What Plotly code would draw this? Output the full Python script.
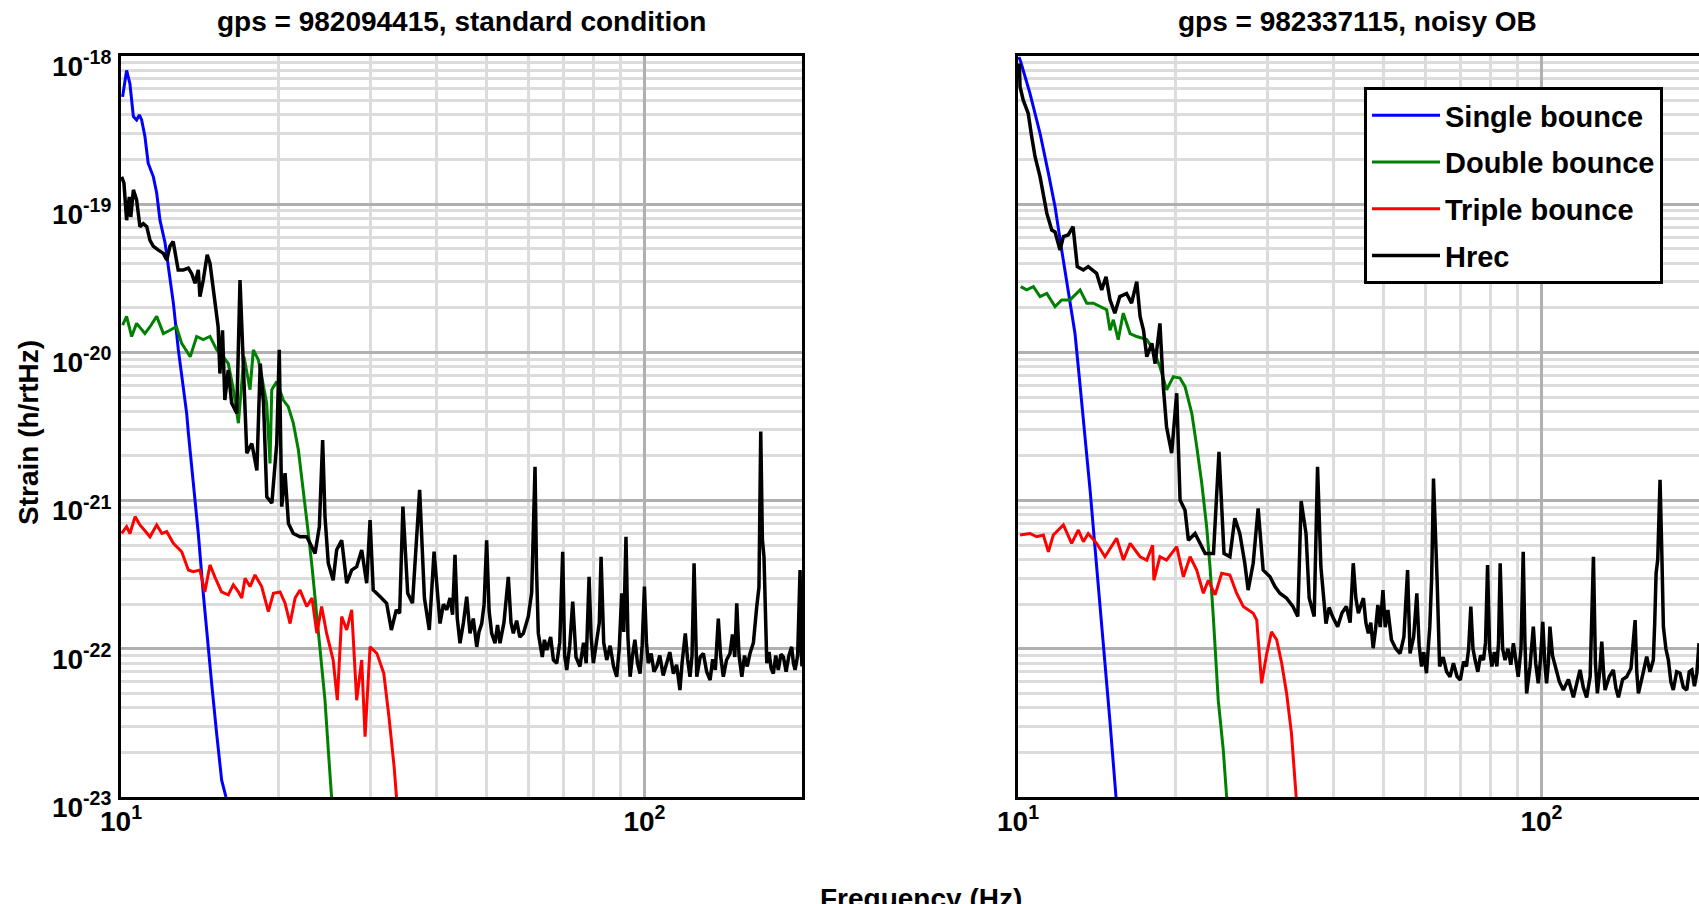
import plotly.graph_objects as go

# ---------------- data, (frequency Hz, strain 1/rtHz) ----------------
# Left panel: gps = 982094415, standard condition
left_single = [(10.07, 5.3e-19), (10.25, 8.0e-19), (10.40, 6.5e-19), (10.56, 3.9e-19), (10.71, 3.7e-19),
               (10.84, 4.0e-19), (10.95, 3.7e-19), (11.11, 2.86e-19), (11.27, 1.89e-19), (11.53, 1.53e-19),
               (11.70, 1.19e-19), (11.87, 7.8e-20), (12.14, 5.47e-20), (12.31, 3.79e-20), (12.59, 2.15e-20),
               (12.87, 1.04e-20), (13.06, 6.86e-21), (13.35, 3.88e-21), (13.45, 2.85e-21), (13.74, 1.31e-21),
               (14.05, 6.0e-22), (14.36, 2.37e-22), (14.58, 1.27e-22), (14.90, 5.85e-23), (15.23, 2.69e-23),
               (15.57, 1.30e-23), (15.87, 1.0e-23)]

left_double = [(10.07, 1.53e-20), (10.25, 1.75e-20), (10.48, 1.28e-20), (10.71, 1.57e-20), (11.11, 1.34e-20),
               (11.36, 1.49e-20), (11.70, 1.75e-20), (12.05, 1.34e-20), (12.40, 1.41e-20), (12.76, 1.49e-20),
               (13.06, 1.15e-20), (13.56, 9.35e-21), (13.95, 1.28e-20), (14.36, 1.22e-20), (14.79, 1.28e-20),
               (15.24, 1.04e-20), (15.68, 9.35e-21), (16.03, 8.4e-21), (16.40, 5.6e-21), (16.76, 3.33e-21),
               (17.18, 9.35e-21), (17.64, 5.6e-21), (17.90, 1.04e-20), (18.30, 8.9e-21), (18.57, 6.86e-21),
               (18.98, 4.55e-21), (19.26, 1.78e-21), (19.41, 5.6e-21), (19.84, 6.35e-21), (20.42, 4.77e-21),
               (20.87, 4.3e-21), (21.34, 3.33e-21), (21.82, 2.2e-21), (22.15, 1.45e-21), (22.47, 9.6e-22),
               (22.80, 6.0e-22), (23.17, 3.58e-22), (23.48, 2.2e-22), (23.82, 1.27e-22), (24.17, 7.6e-23),
               (24.53, 4.5e-23), (24.89, 2.08e-23), (25.25, 1.0e-23)]

left_triple = [(10.03, 6.0e-22), (10.25, 6.67e-22), (10.40, 6.0e-22), (10.64, 7.8e-22), (10.87, 6.85e-22),
               (11.36, 5.7e-22), (11.70, 6.85e-22), (11.97, 6.0e-22), (12.23, 6.17e-22), (12.59, 5.15e-22),
               (13.06, 4.52e-22), (13.45, 3.4e-22), (13.74, 3.31e-22), (14.15, 3.4e-22), (14.46, 2.42e-22),
               (14.79, 3.68e-22), (15.11, 3.06e-22), (15.56, 2.42e-22), (16.03, 2.31e-22), (16.39, 2.7e-22),
               (16.76, 2.42e-22), (17.01, 2.2e-22), (17.26, 2.99e-22), (17.64, 2.63e-22), (18.03, 3.15e-22),
               (18.57, 2.63e-22), (19.12, 1.78e-22), (19.55, 2.37e-22), (20.13, 2.42e-22), (20.58, 2.03e-22),
               (21.04, 1.48e-22), (21.51, 2.2e-22), (21.98, 2.49e-22), (22.64, 1.93e-22), (23.17, 2.2e-22),
               (23.67, 1.27e-22), (24.17, 1.93e-22), (24.71, 1.27e-22), (25.43, 8.4e-23), (25.90, 4.5e-23),
               (26.40, 1.65e-22), (26.99, 1.34e-22), (27.59, 1.83e-22), (28.20, 4.5e-23), (28.83, 8.4e-23),
               (29.26, 2.55e-23), (29.91, 1.03e-22), (30.83, 9.3e-23), (31.77, 6.84e-23), (32.50, 3.48e-23),
               (33.25, 1.6e-23), (33.60, 1.0e-23)]

left_hrec = [(10.03, 1.53e-19), (10.13, 1.39e-19), (10.25, 7.8e-20), (10.37, 1.12e-19), (10.44, 8.2e-20),
             (10.56, 1.25e-19), (10.71, 1.07e-19), (10.87, 7.05e-20), (11.03, 7.4e-20), (11.20, 7.05e-20),
             (11.36, 5.7e-20), (11.53, 5.2e-20), (11.79, 4.9e-20), (12.05, 4.66e-20), (12.23, 4.2e-20),
             (12.40, 5.2e-20), (12.58, 5.6e-20), (12.68, 4.66e-20), (12.86, 3.6e-20), (13.15, 3.6e-20),
             (13.45, 3.7e-20), (13.65, 3.4e-20), (13.85, 2.93e-20), (14.05, 3.6e-20), (14.15, 2.38e-20),
             (14.36, 3.08e-20), (14.61, 4.55e-20), (14.79, 4.0e-20), (15.11, 2.15e-20), (15.33, 1.49e-20),
             (15.45, 7.2e-21), (15.63, 1.41e-20), (15.79, 4.77e-21), (16.03, 7.6e-21), (16.27, 4.55e-21),
             (16.64, 3.88e-21), (16.88, 3.08e-20), (17.13, 8.9e-21), (17.39, 2.09e-21), (17.78, 2.43e-21),
             (18.18, 1.6e-21), (18.45, 8.4e-21), (18.72, 4.55e-21), (18.99, 1.06e-21), (19.42, 9.6e-22),
             (19.84, 2.43e-21), (20.06, 1.04e-20), (20.28, 9.1e-22), (20.58, 1.53e-21), (20.89, 7.0e-22),
             (21.34, 6.0e-22), (21.98, 5.7e-22), (22.64, 5.7e-22), (22.97, 5.15e-22), (23.48, 4.4e-22),
             (23.93, 6.67e-22), (24.28, 2.56e-21), (24.53, 7.8e-22), (24.89, 3.78e-22), (25.43, 2.9e-22),
             (25.82, 4.64e-22), (26.40, 5.4e-22), (26.99, 2.77e-22), (27.59, 3.4e-22), (28.20, 3.58e-22),
             (28.83, 4.64e-22), (29.47, 2.77e-22), (29.91, 7.4e-22), (30.33, 2.49e-22), (31.25, 2.25e-22),
             (32.17, 2.03e-22), (32.85, 1.34e-22), (33.57, 1.83e-22), (34.07, 1.74e-22), (34.56, 9.1e-22),
             (35.30, 2.37e-22), (36.05, 2.03e-22), (37.20, 1.18e-21), (37.99, 2.2e-22), (38.81, 1.34e-22),
             (39.64, 4.52e-22), (40.69, 1.48e-22), (41.30, 2.0e-22), (41.91, 1.83e-22), (42.52, 2.2e-22),
             (43.00, 1.7e-22), (43.46, 4.3e-22), (43.90, 1.6e-22), (44.43, 1.09e-22), (45.10, 1.5e-22),
             (45.76, 2.25e-22), (46.43, 1.27e-22), (47.10, 1.6e-22), (47.82, 1.03e-22), (48.30, 1.3e-22),
             (48.88, 1.48e-22), (49.40, 2.0e-22), (49.95, 5.4e-22), (50.50, 1.8e-22), (51.07, 1.27e-22),
             (51.82, 1.09e-22), (52.40, 1.45e-22), (52.97, 1.09e-22), (53.90, 1.5e-22), (54.95, 3.06e-22),
             (55.60, 1.5e-22), (56.18, 1.27e-22), (57.00, 1.55e-22), (57.80, 1.2e-22), (58.71, 1.27e-22),
             (59.40, 1.45e-22), (60.00, 1.65e-22), (60.90, 2.4e-22), (61.80, 1.69e-21), (62.20, 3.5e-22),
             (62.70, 1.27e-22), (63.80, 8.8e-23), (64.40, 1.15e-22), (65.10, 9.8e-23), (66.20, 1.2e-22),
             (67.00, 8.4e-23), (68.00, 8.0e-23), (68.90, 1.1e-22), (69.80, 4.52e-22), (70.40, 9.0e-23),
             (71.06, 7.2e-23), (72.00, 1.05e-22), (72.95, 2.08e-22), (74.00, 8.8e-23), (75.30, 7.6e-23),
             (76.50, 1.1e-22), (77.40, 8.0e-23), (78.38, 3.06e-22), (79.10, 1.2e-22), (79.88, 8.0e-23),
             (81.00, 1.1e-22), (82.00, 1.5e-22), (82.63, 4.18e-22), (83.60, 1.1e-22), (84.72, 8.4e-23),
             (86.00, 1.05e-22), (87.30, 7.6e-23), (88.52, 6.48e-23), (89.50, 1.0e-22), (90.50, 2.37e-22),
             (91.30, 1.3e-22), (92.20, 5.7e-22), (93.00, 1.2e-22), (93.90, 6.48e-23), (94.90, 9.0e-23),
             (95.90, 1.15e-22), (97.00, 8.0e-23), (98.10, 6.8e-23), (99.00, 1.05e-22), (100.0, 2.63e-22),
             (100.9, 1.1e-22), (101.7, 8.0e-23), (103.0, 9.3e-23), (104.3, 7.0e-23), (105.6, 7.6e-23),
             (107.0, 9.0e-23), (108.6, 6.6e-23), (110.3, 8.0e-23), (111.8, 9.5e-23), (113.6, 6.8e-23),
             (115.2, 7.8e-23), (116.9, 5.27e-23), (118.0, 8.0e-23), (119.7, 1.27e-22), (120.9, 8.5e-23),
             (122.2, 6.48e-23), (123.3, 9.0e-23), (124.4, 3.78e-22), (125.2, 1.0e-22), (125.9, 6.48e-23),
             (127.8, 8.8e-23), (129.6, 9.3e-23), (131.5, 7.0e-23), (133.5, 6.16e-23), (135.0, 8.5e-23),
             (136.6, 7.2e-23), (138.4, 1.6e-22), (139.8, 9.0e-23), (141.5, 6.48e-23), (143.5, 8.4e-23),
             (145.7, 9.3e-23), (147.3, 1.25e-22), (148.8, 8.8e-23), (150.1, 2.03e-22), (151.6, 9.0e-23),
             (153.5, 6.48e-23), (155.3, 9.0e-23), (157.2, 7.6e-23), (159.1, 9.3e-23), (161.5, 1.1e-22),
             (163.9, 1.93e-22), (165.5, 2.6e-22), (166.8, 2.92e-21), (168.0, 5.5e-22), (169.2, 4.18e-22),
             (170.2, 1.5e-22), (171.3, 8.0e-23), (173.0, 9.5e-23), (174.6, 7.4e-23), (176.3, 6.8e-23),
             (178.2, 9.0e-23), (180.2, 7.2e-23), (182.3, 9.2e-23), (184.3, 8.8e-23), (186.5, 7.0e-23),
             (188.8, 9.0e-23), (191.1, 1.03e-22), (192.6, 8.0e-23), (194.0, 7.2e-23), (196.2, 9.0e-23),
             (198.3, 3.4e-22), (199.2, 1.0e-22), (200.0, 7.6e-23)]

# Right panel: gps = 982337115, noisy OB
right_single = [(10.04, 9.85e-19), (10.12, 9.15e-19), (10.54, 5.6e-19), (11.02, 3.0e-19), (11.43, 1.62e-19),
                (11.77, 9.6e-20), (12.12, 4.9e-20), (12.48, 2.64e-20), (12.85, 1.34e-20), (13.14, 6.0e-21),
                (13.43, 2.73e-21), (13.73, 1.18e-21), (14.03, 4.86e-22), (14.35, 1.98e-22), (14.66, 7.77e-23),
                (14.99, 3.2e-23), (15.39, 1.0e-23)]

right_double = [(10.12, 2.78e-20), (10.39, 2.64e-20), (10.70, 2.78e-20), (11.02, 2.38e-20), (11.35, 2.5e-20),
                (11.77, 2.04e-20), (12.12, 2.26e-20), (12.57, 2.26e-20), (13.14, 2.64e-20), (13.53, 2.15e-20),
                (13.93, 2.15e-20), (14.35, 2.04e-20), (14.77, 1.94e-20), (14.99, 1.41e-20), (15.21, 1.66e-20),
                (15.54, 1.22e-20), (15.89, 1.84e-20), (16.37, 1.34e-20), (16.86, 1.28e-20), (17.62, 1.22e-20),
                (18.14, 1.04e-20), (18.67, 8.0e-21), (19.23, 5.6e-21), (19.81, 6.86e-21), (20.39, 6.72e-21),
                (20.85, 5.87e-21), (21.48, 3.88e-21), (21.95, 2.32e-21), (22.44, 1.31e-21), (22.93, 6.67e-22),
                (23.27, 3.58e-22), (23.61, 1.65e-22), (24.13, 4.5e-23), (24.67, 2.08e-23), (25.04, 1.0e-23)]

right_triple = [(10.09, 5.86e-22), (10.54, 6.0e-22), (10.86, 5.7e-22), (11.18, 5.86e-22), (11.43, 4.52e-22),
                (11.68, 5.86e-22), (12.21, 6.85e-22), (12.66, 5.15e-22), (13.04, 6.33e-22), (13.33, 5.28e-22),
                (13.62, 6.0e-22), (14.13, 5.15e-22), (14.66, 4.18e-22), (15.43, 5.57e-22), (15.90, 3.97e-22),
                (16.38, 5.15e-22), (17.11, 4.18e-22), (17.62, 3.97e-22), (18.08, 5.0e-22), (18.18, 2.9e-22),
                (18.67, 4.18e-22), (19.22, 3.97e-22), (20.10, 4.89e-22), (20.70, 3.06e-22), (21.32, 4.18e-22),
                (21.95, 3.4e-22), (22.60, 2.37e-22), (23.10, 2.9e-22), (23.80, 2.31e-22), (24.50, 3.23e-22),
                (25.40, 3.15e-22), (26.16, 2.37e-22), (26.94, 1.93e-22), (28.14, 1.74e-22), (28.58, 1.56e-22),
                (29.20, 5.85e-23), (29.87, 9.3e-23), (30.50, 1.3e-22), (31.20, 1.15e-22), (31.90, 8.0e-23),
                (32.60, 5.0e-23), (33.30, 2.69e-23), (34.00, 1.0e-23)]

right_hrec = [(10.06, 8.9e-19), (10.09, 6.2e-19), (10.23, 5.05e-19), (10.46, 4.1e-19), (10.62, 2.86e-19),
              (10.78, 2.09e-19), (11.02, 1.53e-19), (11.18, 1.12e-19), (11.35, 8.7e-20), (11.60, 6.7e-20),
              (11.77, 6.5e-20), (12.03, 4.9e-20), (12.21, 6.04e-20), (12.47, 6.2e-20), (12.74, 7.05e-20),
              (12.98, 3.79e-20), (13.33, 3.6e-20), (13.62, 3.79e-20), (14.13, 3.42e-20), (14.45, 2.64e-20),
              (14.73, 3.24e-20), (14.99, 2.26e-20), (15.31, 1.84e-20), (15.65, 2.38e-20), (16.12, 2.5e-20),
              (16.48, 2.15e-20), (16.86, 3.0e-20), (17.11, 1.75e-20), (17.37, 1.41e-20), (17.62, 9.35e-21),
              (18.02, 1.15e-20), (18.28, 8.4e-21), (18.67, 1.57e-20), (18.95, 5.87e-21), (19.22, 3.15e-21),
              (19.66, 2.09e-21), (20.10, 5.3e-21), (20.40, 1.01e-21), (20.85, 8.6e-22), (21.16, 5.4e-22),
              (21.79, 6.0e-22), (22.27, 5.15e-22), (22.78, 4.4e-22), (23.63, 4.4e-22), (24.21, 2.13e-21),
              (24.75, 4.4e-22), (25.40, 4.18e-22), (25.96, 7.6e-22), (26.53, 6.0e-22), (27.12, 3.78e-22),
              (27.52, 2.49e-22), (28.14, 3.78e-22), (28.76, 8.87e-22), (29.40, 3.4e-22), (30.30, 3.06e-22),
              (30.97, 2.63e-22), (31.64, 2.37e-22), (32.57, 2.2e-22), (33.51, 1.93e-22), (34.24, 1.65e-22),
              (34.75, 9.94e-22), (35.50, 6.0e-22), (36.00, 2.2e-22), (36.80, 1.65e-22), (37.35, 1.69e-21),
              (37.90, 3.58e-22), (38.76, 1.48e-22), (39.30, 1.9e-22), (39.90, 1.65e-22), (40.80, 1.41e-22),
              (41.60, 1.75e-22), (42.40, 1.93e-22), (43.10, 1.5e-22), (43.70, 3.78e-22), (44.20, 2.2e-22),
              (44.70, 1.74e-22), (45.70, 2.2e-22), (46.20, 1.5e-22), (46.70, 1.27e-22), (47.20, 1.5e-22),
              (47.70, 1.01e-22), (48.20, 1.35e-22), (48.70, 1.98e-22), (49.20, 1.4e-22), (49.80, 2.49e-22),
              (50.30, 1.4e-22), (50.90, 1.83e-22), (51.70, 1.15e-22), (52.70, 1.0e-22), (53.70, 9.3e-23),
              (54.60, 1.2e-22), (55.50, 3.4e-22), (56.10, 9.3e-23), (57.00, 1.2e-22), (57.80, 2.37e-22),
              (58.40, 1.05e-22), (59.00, 7.6e-23), (59.60, 9.5e-23), (60.30, 6.84e-23), (61.20, 1.41e-22),
              (61.70, 3.0e-22), (62.20, 1.41e-21), (62.70, 5.0e-22), (63.20, 2.9e-22), (63.90, 7.6e-23),
              (64.90, 8.8e-23), (65.90, 7.0e-23), (66.90, 6.48e-23), (67.90, 8.0e-23), (69.00, 6.5e-23),
              (70.00, 6.16e-23), (71.00, 8.2e-23), (71.90, 7.6e-23), (72.60, 1.0e-22), (73.30, 1.93e-22),
              (74.00, 1.0e-22), (74.70, 8.4e-23), (75.60, 7.0e-23), (76.50, 9.0e-23), (77.50, 8.4e-23),
              (78.20, 1.1e-22), (78.90, 3.68e-22), (79.60, 1.0e-22), (80.40, 7.6e-23), (81.30, 9.5e-23),
              (82.20, 7.6e-23), (82.80, 1.1e-22), (83.40, 3.78e-22), (84.30, 1.0e-22), (85.20, 8.4e-23),
              (86.30, 1.0e-22), (87.40, 7.8e-23), (88.40, 1.09e-22), (89.40, 8.0e-23), (90.30, 6.48e-23),
              (91.40, 1.0e-22), (92.30, 4.52e-22), (93.00, 1.1e-22), (93.70, 5.0e-23), (95.10, 7.6e-23),
              (96.50, 1.41e-22), (97.50, 8.0e-23), (98.60, 5.85e-23), (99.60, 8.5e-23), (100.6, 1.52e-22),
              (101.5, 8.0e-23), (102.3, 5.85e-23), (103.1, 8.0e-23), (103.8, 1.41e-22), (105.0, 9.0e-23),
              (106.2, 7.6e-23), (108.2, 6.0e-23), (110.1, 5.27e-23), (112.6, 6.2e-23), (115.1, 4.7e-23),
              (116.8, 6.0e-23), (118.5, 7.2e-23), (120.2, 5.5e-23), (122.0, 4.7e-23), (123.9, 6.5e-23),
              (125.7, 4.18e-22), (126.8, 8.0e-23), (127.9, 5.0e-23), (129.2, 7.0e-23), (130.4, 1.12e-22),
              (131.4, 7.0e-23), (132.3, 5.27e-23), (134.8, 6.5e-23), (137.2, 7.2e-23), (138.8, 5.4e-23),
              (140.3, 4.7e-23), (142.9, 6.2e-23), (145.5, 6.48e-23), (148.3, 7.4e-23), (151.0, 1.56e-22),
              (152.1, 7.0e-23), (153.2, 5.0e-23), (156.0, 6.6e-23), (158.9, 8.84e-23), (161.2, 7.0e-23),
              (163.6, 8.4e-23), (164.6, 1.5e-22), (165.6, 3.23e-22), (166.8, 4.0e-22), (168.5, 1.38e-21),
              (169.8, 4.5e-22), (171.0, 1.41e-22), (172.9, 1.0e-22), (174.8, 8.4e-23), (176.7, 6.0e-23),
              (178.6, 5.27e-23), (181.3, 7.0e-23), (184.0, 6.84e-23), (186.7, 5.5e-23), (189.5, 5.27e-23),
              (191.6, 7.0e-23), (193.8, 7.2e-23), (196.0, 5.6e-23), (198.1, 6.84e-23), (200.0, 1.09e-22)]

series_names = ["Single bounce", "Double bounce", "Triple bounce", "Hrec"]
series_colors = ["#0000ff", "#008000", "#ff0000", "#000000"]
series_widths = [3, 3, 3, 3.5]
panel_titles = ["gps = 982094415, standard condition", "gps = 982337115, noisy OB"]
x_tick_vals = [10, 100]
x_tick_text = ["10<sup>1</sup>", "10<sup>2</sup>"]
y_tick_vals = [1e-18, 1e-19, 1e-20, 1e-21, 1e-22, 1e-23]
y_tick_text = ["10<sup>-18</sup>", "10<sup>-19</sup>", "10<sup>-20</sup>",
               "10<sup>-21</sup>", "10<sup>-22</sup>", "10<sup>-23</sup>"]

# ---------------- figure ----------------
W, H = 1699, 904
FONT = "Liberation Sans, Arial, Helvetica, sans-serif"

fig = go.Figure()

left_series = [left_single, left_double, left_triple, left_hrec]
right_series = [right_single, right_double, right_triple, right_hrec]

for pts, name, col, lw in zip(left_series, series_names, series_colors, series_widths):
    fx = [p[0] for p in pts]
    sy = [p[1] for p in pts]
    fig.add_trace(go.Scatter(x=fx, y=sy, mode="lines", name=name, showlegend=False,
                             line=dict(color=col, width=lw), xaxis="x", yaxis="y"))
for pts, name, col, lw in zip(right_series, series_names, series_colors, series_widths):
    fx = [p[0] for p in pts]
    sy = [p[1] for p in pts]
    fig.add_trace(go.Scatter(x=fx, y=sy, mode="lines", name=name, showlegend=True, legendgroup=name,
                             line=dict(color=col, width=lw), xaxis="x2", yaxis="y2"))

y_dom = [1 - 797 / H, 1 - 56 / H]
x1_dom = [121 / W, 802 / W]
x2_dom = [1018 / W, 1.0]

grid_major = "#b0b0b0"
grid_minor = "#dcdcdc"

common_x = dict(type="log", range=[1, 2.30103], tickmode="array", tickvals=x_tick_vals, ticktext=x_tick_text,
                showgrid=True, gridcolor=grid_major, gridwidth=2.5,
                minor=dict(dtick="D1", showgrid=True, gridcolor=grid_minor, gridwidth=2.5, ticks=""),
                showline=True, linecolor="black", linewidth=3, mirror=True, ticks="",
                tickfont=dict(family=FONT, size=28, color="black", weight="bold"),
                ticklabelstandoff=-3, automargin=False, zeroline=False)
common_y = dict(type="log", range=[-23, -18], tickmode="array", tickvals=y_tick_vals, ticktext=y_tick_text,
                showgrid=True, gridcolor=grid_major, gridwidth=2.5,
                minor=dict(dtick="D1", showgrid=True, gridcolor=grid_minor, gridwidth=2.5, ticks=""),
                showline=True, linecolor="black", linewidth=3, ticks="",
                tickfont=dict(family=FONT, size=28, color="black", weight="bold"),
                ticklabelstandoff=1, ticklabelshift=10, automargin=False, zeroline=False, domain=y_dom)

fig.update_layout(
    width=W, height=H,
    margin=dict(l=0, r=0, t=0, b=0),
    paper_bgcolor="white", plot_bgcolor="white",
    font=dict(family=FONT, color="black"),
    xaxis=dict(common_x, domain=x1_dom, anchor="y"),
    yaxis=dict(common_y, anchor="x", mirror=True, showticklabels=True),
    xaxis2=dict(common_x, domain=x2_dom, anchor="y2"),
    yaxis2=dict(common_y, anchor="x2", mirror=False, showticklabels=False),
    showlegend=True,
    legend=dict(x=1364 / W, y=1 - 87 / H, xanchor="left", yanchor="top",
                bgcolor="white", bordercolor="black", borderwidth=3,
                font=dict(family=FONT, size=29, color="black", weight="bold"),
                itemwidth=68, tracegroupgap=6, traceorder="grouped"),
)

annotations = [
    dict(text=panel_titles[0], x=(x1_dom[0] + x1_dom[1]) / 2, y=1 - 22 / H, xref="paper", yref="paper",
         xanchor="center", yanchor="middle", showarrow=False,
         font=dict(family=FONT, size=28, color="black", weight="bold")),
    dict(text=panel_titles[1], x=1357 / W, y=1 - 22 / H, xref="paper", yref="paper",
         xanchor="center", yanchor="middle", showarrow=False,
         font=dict(family=FONT, size=28, color="black", weight="bold")),
    dict(text="Strain (h/rtHz)", x=28 / W, y=1 - 433 / H, xref="paper", yref="paper",
         xanchor="center", yanchor="middle", textangle=-90, showarrow=False,
         font=dict(family=FONT, size=28, color="black", weight="bold")),
    dict(text="Frequency (Hz)", x=921 / W, y=1 - 898 / H, xref="paper", yref="paper",
         xanchor="center", yanchor="middle", showarrow=False,
         font=dict(family=FONT, size=28, color="black", weight="bold")),
]
fig.update_layout(annotations=annotations)

fig.write_html("out.html", config={"displayModeBar": False},
               post_script="document.body.style.margin='0';")
